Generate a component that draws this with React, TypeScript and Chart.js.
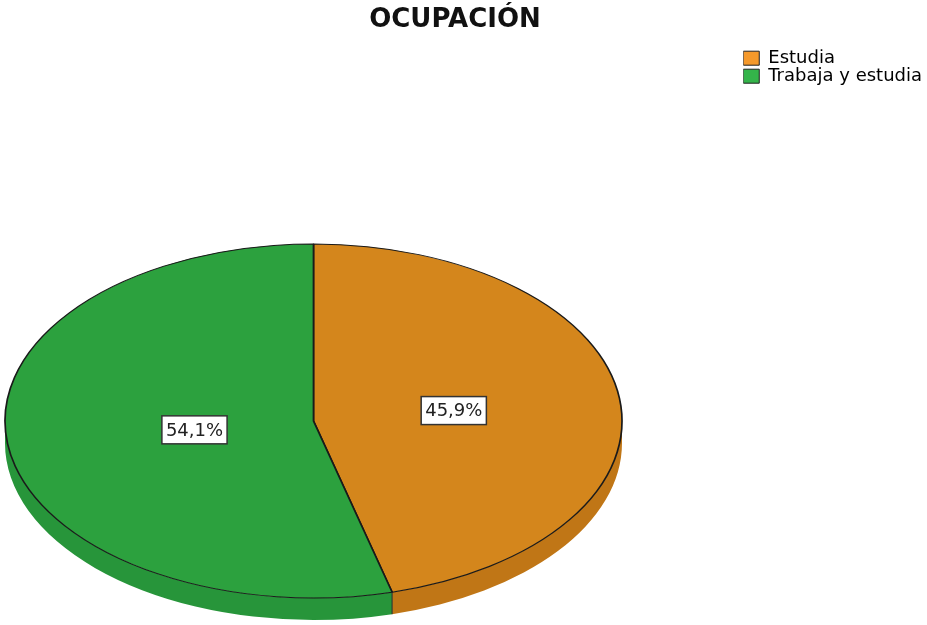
import React, { useEffect, useRef } from 'react';
import { Chart, registerables } from 'chart.js';

Chart.register(...registerables);

const categories = ['Estudia', 'Trabaja y estudia'];
const percentages = [45.9, 54.1];
const valueLabels = ['45,9%', '54,1%'];
const topColors = ['#d4861c', '#2ca13e'];
const sideColors = ['#c07616', '#27953a'];
const legendColors = ['#f5992b', '#34b44a'];

// 3D ellipse layout (screen pixels)
const CX = 313.5;
const CY = 421;
const RX = 308.5;
const RY = 177;
const DEPTH = 22;

const pie3d = {
  id: 'pie3d',
  beforeDatasetsDraw(chart: any) {
    const ctx = chart.ctx as CanvasRenderingContext2D;
    const arcs = chart.getDatasetMeta(0).data as any[];
    if (!arcs.length) return;
    const TAU = Math.PI * 2;
    arcs.forEach((arc, i) => {
      const s = arc.startAngle;
      const e = arc.endAngle;
      for (let k = -1; k <= 1; k++) {
        const lo = Math.max(s, TAU * k);
        const hi = Math.min(e, Math.PI + TAU * k);
        if (hi > lo) {
          ctx.beginPath();
          ctx.ellipse(CX, CY, RX, RY, 0, lo, hi, false);
          ctx.ellipse(CX, CY + DEPTH, RX, RY, 0, hi, lo, true);
          ctx.closePath();
          ctx.fillStyle = sideColors[i];
          ctx.fill();
        }
      }
      const a = ((s % TAU) + TAU) % TAU;
      if (a > 0.001 && a < Math.PI - 0.001) {
        const x = CX + RX * Math.cos(a);
        const y = CY + RY * Math.sin(a);
        ctx.beginPath();
        ctx.moveTo(x, y);
        ctx.lineTo(x, y + DEPTH);
        ctx.strokeStyle = '#2a2a2a';
        ctx.lineWidth = 1;
        ctx.stroke();
      }
    });
    const a0 = arcs[0];
    ctx.save();
    ctx.translate(CX, CY);
    ctx.scale(RX / a0.outerRadius, RY / a0.outerRadius);
    ctx.translate(-a0.x, -a0.y);
  },
  afterDatasetsDraw(chart: any) {
    const ctx = chart.ctx as CanvasRenderingContext2D;
    const arcs = chart.getDatasetMeta(0).data as any[];
    if (!arcs.length) return;
    ctx.restore();
    ctx.save();
    ctx.font = '18px "DejaVu Sans"';
    ctx.textAlign = 'center';
    ctx.textBaseline = 'middle';
    arcs.forEach((arc, i) => {
      const s = arc.startAngle;
      const e = arc.endAngle;
      const alpha = e - s;
      const mid = (s + e) / 2;
      const frac = (4 * Math.sin(alpha / 2)) / (3 * alpha);
      const x = CX + frac * RX * Math.cos(mid);
      const y = CY + frac * RY * Math.sin(mid);
      const text = valueLabels[i];
      const tw = ctx.measureText(text).width;
      const w = tw + 8;
      const h = 28;
      ctx.fillStyle = '#ffffff';
      ctx.fillRect(x - w / 2, y - h / 2, w, h);
      ctx.strokeStyle = '#333333';
      ctx.lineWidth = 1.5;
      ctx.strokeRect(x - w / 2, y - h / 2, w, h);
      ctx.fillStyle = '#222222';
      ctx.fillText(text, x, y + 1);
    });
    ctx.restore();
  },
};

export default function App() {
  const canvasRef = useRef<HTMLCanvasElement | null>(null);

  useEffect(() => {
    if (!canvasRef.current) return;
    const chart = new Chart(canvasRef.current, {
      type: 'pie',
      data: {
        labels: categories,
        datasets: [
          {
            data: percentages,
            backgroundColor: topColors,
            borderColor: '#1a1a1a',
            borderWidth: 1.6,
            clip: false,
          } as any,
        ],
      },
      options: {
        responsive: false,
        animation: false,
        events: [],
        layout: { padding: { left: -22, right: -5 } },
        plugins: {
          tooltip: { enabled: false },
          title: {
            display: true,
            text: 'OCUPACIÓN',
            color: '#111111',
            font: { family: 'DejaVu Sans', size: 26, weight: 'bold' },
            padding: { top: 5, bottom: 13 },
          },
          legend: {
            position: 'right',
            align: 'start',
            fullSize: false,
            labels: {
              font: { family: 'DejaVu Sans', size: 18 },
              color: '#222222',
              boxWidth: 16,
              boxHeight: 14,
              padding: 0,
              generateLabels: () =>
                categories.map((c, i) => ({
                  text: c,
                  fillStyle: legendColors[i],
                  strokeStyle: '#222222',
                  lineWidth: 1,
                  hidden: false,
                  index: i,
                })),
            },
          },
        },
      },
      plugins: [pie3d],
    });
    return () => chart.destroy();
  }, []);

  return (
    <div style={{ position: 'fixed', left: 0, top: 0, width: 927, height: 625, background: '#fff' }}>
      <canvas ref={canvasRef} width={927} height={625} style={{ display: 'block' }} />
    </div>
  );
}
